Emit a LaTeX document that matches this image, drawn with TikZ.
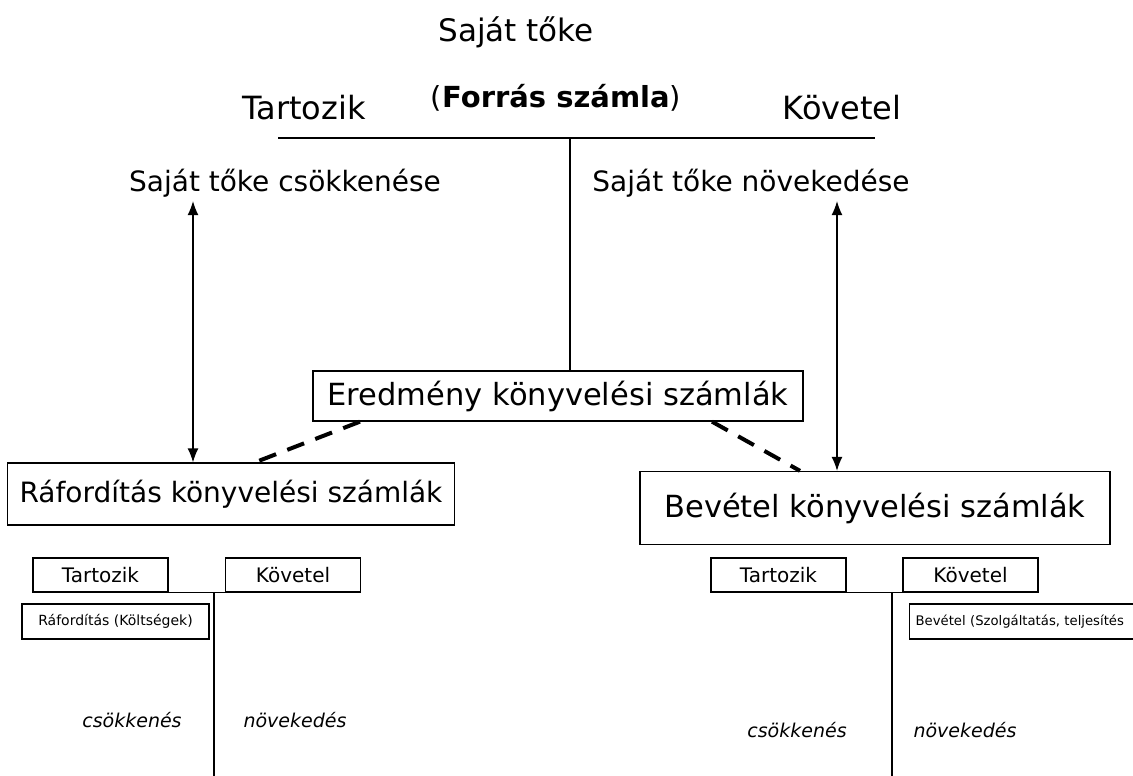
\documentclass[tikz,border=0pt]{standalone}
\usepackage{fontspec}
\setmainfont{DejaVu Sans}
\usetikzlibrary{arrows.meta}
\newcommand{\fsz}[1]{\fontsize{#1}{#1}\selectfont}
\begin{document}
\begin{tikzpicture}[x=1pt, y=-1pt, line width=1.3pt, >={Latex[length=14pt,width=11pt]},
    bigbox/.style={draw, inner sep=0pt},
    tbox/.style={draw, minimum width=135, minimum height=34, inner sep=0pt, font=\fsz{20}},
    itemtxt/.style={font=\fsz{19}\itshape},
    linkdash/.style={line width=4pt, dash pattern=on 18pt off 12pt}]
    \useasboundingbox (0,0) rectangle (1133,776);
    \clip (0,0) rectangle (1133,776);

    % Equity account header
    \node[font=\fsz{31}] (sajat) at (516,32) {Saját tőke};
    \node[font=\fsz{29}] (forras) at (556,98) {(\textbf{Forrás számla})};
    \node[font=\fsz{32}] (tartT) at (304,108) {Tartozik};
    \node[font=\fsz{32}] (kovT) at (842,108) {Követel};
    \coordinate (lineL) at (278,138);
    \coordinate (lineR) at (875,138);
    \coordinate (lineM) at (570,138);
    \draw (lineL) -- (lineR);
    \node[font=\fsz{28}] (csokk) at (285,183) {Saját tőke csökkenése};
    \node[font=\fsz{28}] (novek) at (751,183) {Saját tőke növekedése};

    % Result accounts
    \node[bigbox, font=\fsz{30.5}, minimum width=490, minimum height=50] (eredm) at (558,396) {Eredmény könyvelési számlák};
    \node[bigbox, font=\fsz{28}, minimum width=447, minimum height=62] (rafbox) at (231,494) {Ráfordítás könyvelési számlák};
    \node[bigbox, font=\fsz{30.5}, minimum width=470, minimum height=73] (bevbox) at (875,508) {Bevétel könyvelési számlák};
    \draw (lineM) -- (eredm.north -| lineM);

    % Two-way arrows
    \coordinate (arrL) at (193,0);
    \coordinate (arrR) at (837,0);
    \draw[<->] (csokk.south -| arrL) -- (rafbox.north -| arrL);
    \draw[<->] (novek.south -| arrR) -- (bevbox.north -| arrR);

    % Dashed links
    \coordinate (dL1) at (360,0);
    \coordinate (dL2) at (255,0);
    \coordinate (dR1) at (712,0);
    \coordinate (dR2) at (800,0);
    \draw[linkdash] (eredm.south -| dL1) -- (rafbox.north -| dL2);
    \draw[linkdash] (eredm.south -| dR1) -- (bevbox.north -| dR2);

    % Expense T-account
    \node[tbox] (tartA) at (100.5,575) {Tartozik};
    \node[tbox] (kovA) at (293,575) {Követel};
    \coordinate (midA) at (214,776);
    \draw (tartA.south east) -- (kovA.south west);
    \draw (tartA.south east -| midA) -- (midA);
    \node[draw, minimum width=187, minimum height=35, inner sep=0pt, font=\fsz{14}] (rafitem) at (115.5,621.5) {Ráfordítás (Költségek)};
    \node[itemtxt] (csA) at (132,720) {csökkenés};
    \node[itemtxt] (nvA) at (295,720) {növekedés};

    % Revenue T-account
    \node[tbox] (tartB) at (778.5,575) {Tartozik};
    \node[tbox] (kovB) at (970.5,575) {Követel};
    \coordinate (midB) at (892,776);
    \draw (tartB.south east) -- (kovB.south west);
    \draw (tartB.south east -| midB) -- (midB);
    \node[draw, anchor=west, minimum height=35, text width=300, inner xsep=6pt, inner ysep=0pt, font=\fsz{13.2}] (bevitem) at (909,621.5) {Bevétel (Szolgáltatás, teljesítés};
    \node[itemtxt] (csB) at (797,730) {csökkenés};
    \node[itemtxt] (nvB) at (965,730) {növekedés};
\end{tikzpicture}
\end{document}
